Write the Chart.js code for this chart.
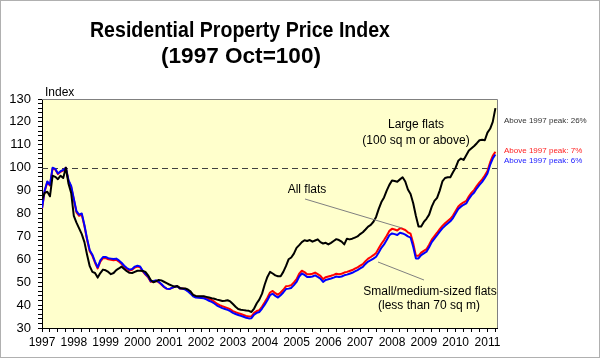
<!DOCTYPE html>
<html>
<head>
<meta charset="utf-8">
<script src="https://cdn.jsdelivr.net/npm/chart.js@4.4.1/dist/chart.umd.min.js"></script>
<style>
  html, body { margin: 0; padding: 0; background: #fff; }
  #wrap { width: 600px; height: 358px; }
</style>
</head>
<body>
<div id="wrap"><canvas id="rppiChart" width="600" height="358"></canvas></div>
<script>
// Monthly index values, Jan 1997 onwards (1997 Oct = 100)
const startYear = 1997;
const yTicks = [30, 40, 50, 60, 70, 80, 90, 100, 110, 120, 130];
const xYears = [1997, 1998, 1999, 2000, 2001, 2002, 2003, 2004, 2005, 2006, 2007, 2008, 2009, 2010, 2011];

// Large flats (100 sq m or above)
const largeFlats = [
  86, 89, 89.5, 87.5, 96.5, 96, 95, 96.5, 95.5, 100,
  93, 89, 79, 76, 73.5, 71, 67.5, 62, 57, 54.5,
  54, 52, 54, 55.5, 55.2, 54.5, 53.5, 54, 55.3, 56,
  56.8, 55.8, 54.8, 54.1, 54, 54.5, 55, 55, 54.9, 54.5,
  53, 51, 50, 50.4, 51, 50.8, 50.2, 49.6, 49, 48.5,
  48, 48.3, 47.5, 47.2, 47.3, 46.8, 46, 44.5, 44, 43.9,
  43.9, 43.9, 43.6, 43.3, 43, 42.8, 42.4, 42.1, 41.8, 41.9,
  42.1, 41.6, 40.5, 39.3, 38.3, 38, 37.8, 37.6, 37.5, 37,
  38.5, 40.8, 42.5, 45, 49, 52.3, 54.5, 53.8, 53, 52.6,
  52.6, 54.5, 57, 60, 60.8, 62.5, 65, 66.2, 67.5, 68.3,
  68, 68.4, 67.7, 68.2, 68.7, 67.5, 66.9, 67.2, 66.5, 67.2,
  68, 68.8, 68.4, 67.7, 66.5, 69, 68.7, 69, 69.5, 70,
  71, 71.8, 73, 74.3, 75, 76.4, 78.5, 82, 85, 87,
  90, 92.5, 94.4, 94.2, 93.9, 94.9, 95.8, 94, 90.5, 88.5,
  84.5, 79, 74.3, 74.3, 76.3, 77.7, 79.5, 83, 85.5, 86.8,
  90, 94, 95.5, 95.8, 95.8, 98, 100, 103, 104, 103.4,
  105.4, 107.5, 108.5, 109.5, 110.7, 112, 112.2, 112, 115.3, 117,
  120, 126
];

// All flats
const allFlats = [
  82, 89.7, 93.7, 92.2, 99.7, 99.2, 97.2, 98.2, 98.7, 100,
  94.2, 91.6, 86, 80.5, 79, 79.5, 74.5, 68.5, 63.5, 61.5,
  58.5, 56, 59, 60.5, 60.5, 60, 59.8, 59.6, 59.8, 59,
  58, 56.8, 55.8, 55.1, 55.4, 56.4, 56.8, 56.5, 54.7, 53.3,
  52.2, 50.2, 50.3, 50.6, 50, 49, 47.9, 47.2, 47, 47.5,
  48, 48.2, 47.3, 47.3, 47, 46.3, 45.4, 44.3, 43.8, 43.7,
  43.7, 43.7, 43.2, 42.6, 42.2, 41.5, 40.6, 40, 39.5, 39.1,
  38.7, 38.2, 37.4, 36.9, 36.5, 36.1, 35.7, 35.3, 35, 35.1,
  36.6, 37.4, 37.8, 39.4, 41.2, 43.2, 45.5, 46.2, 45.2, 44.5,
  45.5, 46.7, 48.2, 48.4, 48.7, 49.9, 51.3, 53.7, 55, 54.4,
  53.5, 53.5, 53.7, 54.2, 53.5, 52.8, 51.3, 52.2, 52.5, 52.8,
  53.2, 53.7, 53.5, 53.7, 54.2, 54.5, 54.9, 55.3, 55.9, 56.5,
  57.2, 57.9, 59.2, 60.3, 61, 61.8, 62.8, 64.8, 66.8, 68.4,
  70.3, 72.4, 73.3, 73, 72.6, 73.6, 73.3, 72.8, 71.8, 71.2,
  67, 61.6, 61.5, 62.9, 63.7, 64.4, 66.4, 68.6, 70.1, 71.6,
  73.2, 74.6, 75.7, 76.7, 77.7, 79.1, 81.1, 83.1, 84.1, 84.9,
  85.5, 87.5, 89.1, 90.3, 92.1, 93.6, 94.9, 96.6, 98.6, 102.3,
  105.2, 107
];

// Small/medium-sized flats (less than 70 sq m)
const smallFlats = [
  82.3, 90, 94, 92.5, 100, 99.5, 97.5, 98.5, 99, 100,
  94.5, 92, 86.5, 81, 79.5, 80, 75, 69, 64, 62,
  59, 56.5, 59.5, 61, 61, 60.5, 60.3, 60.1, 60.3, 59.5,
  58.5, 57.2, 56.2, 55.5, 55.8, 56.8, 57.2, 56.9, 55, 53.6,
  52.5, 50.4, 50.5, 50.8, 50.2, 49.2, 48, 47.2, 47, 47.5,
  48, 48.2, 47.2, 47.2, 46.8, 46, 45, 43.8, 43.3, 43.2,
  43.1, 43, 42.5, 41.9, 41.4, 40.7, 39.8, 39.2, 38.7, 38.3,
  37.9, 37.4, 36.6, 36.1, 35.7, 35.3, 34.9, 34.5, 34.2, 34.3,
  35.8, 36.6, 37, 38.5, 40.2, 42.1, 44.3, 45, 44, 43.3,
  44.3, 45.5, 47, 47.2, 47.5, 48.7, 50.1, 52.5, 53.8, 53.2,
  52.3, 52.3, 52.5, 53, 52.3, 51.6, 50.1, 51, 51.3, 51.6,
  52, 52.5, 52.3, 52.5, 53, 53.3, 53.7, 54.1, 54.7, 55.3,
  56, 56.7, 58, 59, 59.6, 60.3, 61.1, 63, 65, 66.5,
  68.4, 70.5, 71.3, 71, 70.6, 71.6, 71.3, 70.8, 70, 69.5,
  65.5, 60.4, 60.4, 61.8, 62.6, 63.3, 65.3, 67.5, 69, 70.5,
  72.1, 73.5, 74.6, 75.6, 76.6, 78, 80, 82, 83, 83.8,
  84.4, 86.4, 88, 89.2, 91, 92.5, 93.8, 95.5, 97.5, 101.2,
  104, 105.8
];

const peakNotes = ["Above 1997 peak: 26%", "Above 1997 peak: 7%", "Above 1997 peak: 6%"];

function toPoints(values) {
  return values.map((v, i) => ({ x: startYear + i / 12, y: v }));
}

const FONT = '"Liberation Sans", Arial, sans-serif';
Chart.defaults.font.family = FONT;
Chart.defaults.color = '#000';

// draw text squeezed/stretched to a given width
function fitText(ctx, text, cx, cy, width) {
  const w = ctx.measureText(text).width;
  ctx.save();
  ctx.translate(cx, cy);
  ctx.scale(width / w, 1);
  ctx.fillText(text, 0, 0);
  ctx.restore();
}

// background, dashed 100 line, frame, title and notes
const decorations = {
  id: 'decorations',
  beforeDraw(chart) {
    const { ctx, chartArea: a } = chart;
    ctx.save();
    ctx.fillStyle = '#fff';
    ctx.fillRect(0, 0, chart.width, chart.height);
    ctx.fillStyle = '#FFFFCC';
    ctx.fillRect(a.left, a.top, a.right - a.left, a.bottom - a.top);
    ctx.restore();
  },
  beforeDatasetsDraw(chart) {
    const { ctx, chartArea: a, scales } = chart;
    const y100 = scales.y.getPixelForValue(100);
    ctx.save();
    ctx.strokeStyle = '#404040';
    ctx.lineWidth = 1;
    ctx.setLineDash([6, 4]);
    ctx.beginPath();
    ctx.moveTo(a.left, Math.round(y100) + 0.5);
    ctx.lineTo(a.right, Math.round(y100) + 0.5);
    ctx.stroke();
    ctx.restore();
  },
  afterDraw(chart) {
    const { ctx, chartArea: a } = chart;
    ctx.save();
    // frame top/right
    ctx.strokeStyle = '#808080';
    ctx.lineWidth = 1;
    ctx.beginPath();
    ctx.moveTo(a.left, a.top + 0.5);
    ctx.lineTo(a.right + 0.5, a.top + 0.5);
    ctx.lineTo(a.right + 0.5, a.bottom);
    ctx.stroke();

    // outer border
    ctx.strokeStyle = '#b0b0b0';
    ctx.strokeRect(0.5, 0.5, chart.width - 1, chart.height - 1);

    // title
    ctx.fillStyle = '#000';
    ctx.textAlign = 'center';
    ctx.textBaseline = 'middle';
    ctx.font = 'bold 22px ' + FONT;
    fitText(ctx, 'Residential Property Price Index', 240, 31, 300);
    fitText(ctx, '(1997 Oct=100)', 241, 57, 160);

    ctx.font = '12px ' + FONT;
    ctx.textAlign = 'left';
    ctx.fillText('Index', 45, 93);

    // leader lines
    ctx.strokeStyle = '#808080';
    ctx.beginPath();
    ctx.moveTo(305, 199);
    ctx.lineTo(402, 228);
    ctx.moveTo(378, 262);
    ctx.lineTo(424, 280);
    ctx.stroke();

    ctx.textAlign = 'center';
    ctx.fillText('Large flats', 416, 125);
    ctx.fillText('(100 sq m or above)', 416, 141);
    ctx.fillText('All flats', 307, 190);
    ctx.fillText('Small/medium-sized flats', 430, 292);
    ctx.fillText('(less than 70 sq m)', 429, 306);

    ctx.textAlign = 'left';
    ctx.font = '8px ' + FONT;
    ctx.fillStyle = '#333';
    ctx.fillText(peakNotes[0], 504, 121);
    ctx.fillStyle = '#ff2020';
    ctx.fillText(peakNotes[1], 504, 151);
    ctx.fillStyle = '#2020ff';
    ctx.fillText(peakNotes[2], 504, 161);
    ctx.restore();
  }
};

const ctx = document.getElementById('rppiChart').getContext('2d');
new Chart(ctx, {
  type: 'line',
  data: {
    datasets: [
      { label: 'Large flats', data: toPoints(largeFlats), borderColor: '#000', borderWidth: 2 },
      { label: 'Small/medium-sized flats', data: toPoints(smallFlats), borderColor: '#0000ff', borderWidth: 2 },
      { label: 'All flats', data: toPoints(allFlats), borderColor: '#ff0000', borderWidth: 2 }
    ]
  },
  options: {
    responsive: false,
    animation: false,
    layout: { padding: { left: 0, top: 99, right: 103, bottom: 0 } },
    elements: { point: { radius: 0 }, line: { tension: 0, borderJoinStyle: 'round' } },
    plugins: { legend: { display: false }, tooltip: { enabled: false } },
    scales: {
      x: {
        type: 'linear',
        min: xYears[0],
        max: 2011.3,
        afterFit(s) { s.height = 30; },
        border: { color: '#000', width: 1 },
        grid: { drawOnChartArea: false, drawTicks: true, tickLength: 4, color: '#000' },
        ticks: {
          stepSize: 0.25,
          autoSkip: false,
          includeBounds: false,
          maxRotation: 0,
          padding: 3,
          font: { size: 12 },
          color: '#000',
          callback(v) {
            const r = Math.round(v);
            return Math.abs(v - r) < 1e-6 && xYears.includes(r) ? String(r) : '';
          }
        }
      },
      y: {
        min: yTicks[0],
        max: yTicks[yTicks.length - 1],
        afterFit(s) { s.width = 42; },
        border: { color: '#000', width: 1 },
        grid: { drawOnChartArea: false, drawTicks: true, tickLength: 4, color: '#000' },
        ticks: {
          stepSize: 2,
          autoSkip: false,
          padding: 7,
          font: { size: 13 },
          color: '#000',
          callback(v) { return yTicks.includes(v) ? String(v) : ''; }
        }
      }
    }
  },
  plugins: [decorations]
});
</script>
</body>
</html>
